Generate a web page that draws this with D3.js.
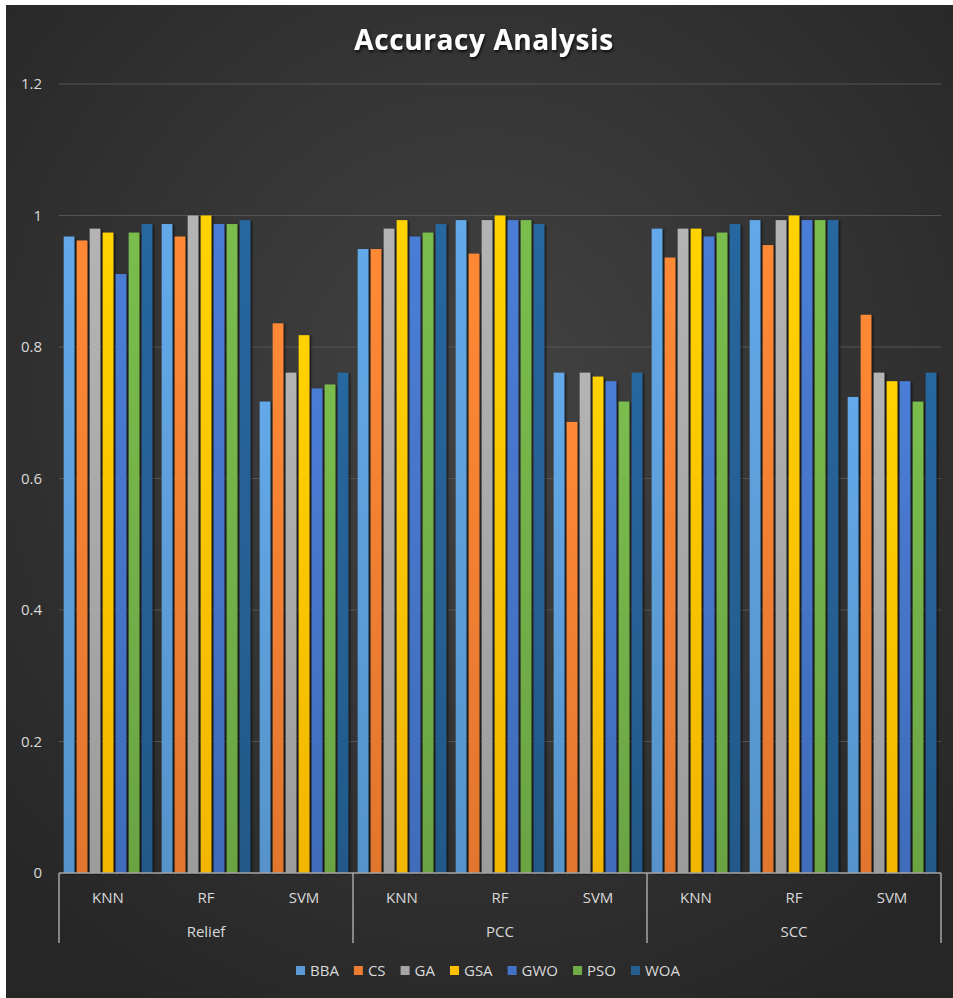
<!DOCTYPE html>
<meta charset="utf-8">
<head> <title> Accuracy Analysis </title>
<style>
body { margin: 0; background: #ffffff; }
svg text { font-family: "Open Sans", "DejaVu Sans", sans-serif; }
.ticks text { fill: #d9d9d9; font-size: 15px; }
.cats text { fill: #d9d9d9; font-size: 15px; }
.legend text { fill: #d9d9d9; font-size: 15px; }
</style>
</head>
<svg width="953" height="998"></svg>
<script src="https://d3js.org/d3.v7.min.js"></script>
<script>

// data
var groups = ["Relief", "PCC", "SCC"];
var classifiers = ["KNN", "RF", "SVM"];
var series = ["BBA", "CS", "GA", "GSA", "GWO", "PSO", "WOA"];
var colours = ["#5B9BD5", "#ED7D31", "#A5A5A5", "#FFC000", "#4472C4", "#70AD47", "#255E91"];
var yTicks = [0, 0.2, 0.4, 0.6, 0.8, 1, 1.2];

// one row per group/classifier, values in series order
var reliefKNN = [0.968, 0.962, 0.980, 0.974, 0.911, 0.974, 0.987];
var reliefRF  = [0.987, 0.968, 1.000, 1.000, 0.987, 0.987, 0.993];
var reliefSVM = [0.717, 0.836, 0.761, 0.818, 0.737, 0.743, 0.761];
var pccKNN    = [0.949, 0.949, 0.980, 0.993, 0.968, 0.974, 0.987];
var pccRF     = [0.993, 0.942, 0.993, 1.000, 0.993, 0.993, 0.987];
var pccSVM    = [0.761, 0.686, 0.761, 0.755, 0.748, 0.717, 0.761];
var sccKNN    = [0.980, 0.936, 0.980, 0.980, 0.968, 0.974, 0.987];
var sccRF     = [0.993, 0.955, 0.993, 1.000, 0.993, 0.993, 0.993];
var sccSVM    = [0.724, 0.849, 0.761, 0.748, 0.748, 0.717, 0.761];

var rows = [reliefKNN, reliefRF, reliefSVM, pccKNN, pccRF, pccSVM, sccKNN, sccRF, sccSVM];

var svg = d3.select("svg"),
    width = +svg.attr("width"),
    height = +svg.attr("height");

// plot area (window.top is taken, so prefixed names)
var plotLeft = 59, plotRight = 941, plotTop = 84, plotBottom = 873;

var defs = svg.append("defs");

// dark radial background like the excel style
var bg = defs.append("radialGradient").attr("id", "bg")
    .attr("cx", "50%").attr("cy", "40%").attr("r", "70%");
bg.append("stop").attr("offset", "0%").attr("stop-color", "#434343");
bg.append("stop").attr("offset", "100%").attr("stop-color", "#262626");

colours.forEach(function(c, i) {
  var g = defs.append("linearGradient").attr("id", "bar" + i)
      .attr("x1", 0).attr("y1", 0).attr("x2", 0).attr("y2", 1);
  g.append("stop").attr("offset", "0%").attr("stop-color", d3.color(c).brighter(0.25));
  g.append("stop").attr("offset", "100%").attr("stop-color", d3.color(c).darker(0.15));
});

var shadow = defs.append("filter").attr("id", "shadow")
    .attr("x", "-50%").attr("y", "-10%").attr("width", "200%").attr("height", "120%");
shadow.append("feDropShadow").attr("dx", 1.5).attr("dy", 1).attr("stdDeviation", 1.2)
    .attr("flood-color", "#000").attr("flood-opacity", 0.7);

var titleShadow = defs.append("filter").attr("id", "tshadow");
titleShadow.append("feDropShadow").attr("dx", 1).attr("dy", 2).attr("stdDeviation", 1.5)
    .attr("flood-color", "#000").attr("flood-opacity", 0.8);

svg.append("rect")
    .attr("x", 6).attr("y", 5)
    .attr("width", width - 6).attr("height", height - 5)
    .attr("fill", "url(#bg)");

// title
svg.append("text")
    .attr("x", 484).attr("y", 50)
    .attr("text-anchor", "middle")
    .style("font-size", "28px")
    .style("font-weight", "bold")
    .style("letter-spacing", "0.6px")
    .attr("fill", "#ffffff")
    .attr("filter", "url(#tshadow)")
    .text("Accuracy Analysis");

//scales
var y = d3.scaleLinear().domain([0, 1.2]).range([plotBottom, plotTop]);

var subKeys = [];
groups.forEach(function(g) {
  classifiers.forEach(function(c) { subKeys.push(g + "|" + c); });
});

var x0 = d3.scaleBand().domain(subKeys).range([plotLeft, plotRight]).padding(0);
var x1 = d3.scaleBand().domain(series).range([0, x0.bandwidth()])
    .paddingInner(0.18).paddingOuter(0.36);

// gridlines
var grid = svg.append("g").attr("class", "grid");
grid.selectAll("line")
    .data(yTicks.filter(function(d) { return d > 0; }))
    .enter().append("line")
      .attr("x1", plotLeft).attr("x2", plotRight)
      .attr("y1", function(d) { return y(d); })
      .attr("y2", function(d) { return y(d); })
      .attr("stroke", "#545454")
      .attr("stroke-width", 1);

// y axis labels
var yAxis = d3.axisLeft(y).tickValues(yTicks).tickSize(0).tickPadding(0)
    .tickFormat(function(d) { return d3.format("")(d); });
var yg = svg.append("g").attr("class", "ticks")
    .attr("transform", "translate(42,0)")
    .call(yAxis);
yg.select(".domain").remove();
yg.selectAll("text").attr("fill", "#d9d9d9").style("font-size", "15px")
    .style("font-family", "'Open Sans', sans-serif");

// bars
var clusters = svg.append("g").attr("class", "bars")
    .selectAll("g")
    .data(rows)
    .enter().append("g")
      .attr("transform", function(d, i) { return "translate(" + x0(subKeys[i]) + ",0)"; });

clusters.selectAll("rect")
    .data(function(d) { return d.map(function(v, j) { return {key: series[j], value: v, idx: j}; }); })
    .enter().append("rect")
      .attr("x", function(d) { return x1(d.key); })
      .attr("y", function(d) { return y(d.value); })
      .attr("width", x1.bandwidth())
      .attr("height", function(d) { return y(0) - y(d.value); })
      .attr("fill", function(d) { return "url(#bar" + d.idx + ")"; })
      .attr("filter", "url(#shadow)");

// category axis
var cats = svg.append("g").attr("class", "cats");
cats.append("line")
    .attr("x1", plotLeft).attr("x2", plotRight)
    .attr("y1", plotBottom).attr("y2", plotBottom)
    .attr("stroke", "#a6a6a6").attr("stroke-width", 1.5);

var groupEdges = [0, 3, 6, 9].map(function(k) {
  return k < 9 ? x0(subKeys[k]) : plotRight;
});
cats.selectAll("line.div")
    .data(groupEdges)
    .enter().append("line")
      .attr("class", "div")
      .attr("x1", function(d) { return d; }).attr("x2", function(d) { return d; })
      .attr("y1", plotBottom).attr("y2", 943)
      .attr("stroke", "#a6a6a6").attr("stroke-width", 1.5);

cats.selectAll("text.sub")
    .data(subKeys)
    .enter().append("text")
      .attr("class", "sub")
      .attr("x", function(d) { return x0(d) + x0.bandwidth() / 2; })
      .attr("y", 903)
      .attr("text-anchor", "middle")
      .text(function(d) { return d.split("|")[1]; });

cats.selectAll("text.grp")
    .data(groups)
    .enter().append("text")
      .attr("class", "grp")
      .attr("x", function(d, i) { return (groupEdges[i] + groupEdges[i + 1]) / 2; })
      .attr("y", 937)
      .attr("text-anchor", "middle")
      .text(function(d) { return d; });

// legend
var legend = svg.append("g").attr("class", "legend");
var items = legend.selectAll("g")
    .data(series)
    .enter().append("g");
items.append("rect")
    .attr("width", 9).attr("height", 9)
    .attr("y", 966)
    .attr("fill", function(d, i) { return colours[i]; });
items.append("text")
    .attr("x", 14).attr("y", 976)
    .text(function(d) { return d; });

var lx = 0, offsets = [];
items.each(function() {
  offsets.push(lx);
  lx += 14 + d3.select(this).select("text").node().getComputedTextLength() + 15;
});
var legendStart = 488 - (lx - 15) / 2;
items.attr("transform", function(d, i) { return "translate(" + (legendStart + offsets[i]) + ",0)"; });

</script>
